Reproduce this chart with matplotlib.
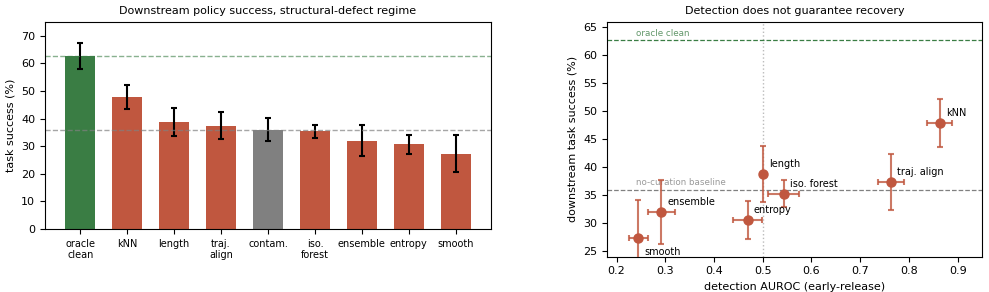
import numpy as np
import matplotlib
matplotlib.use("Agg")
import matplotlib.pyplot as plt

# ---------- data ----------
methods     = ["oracle\nclean", "kNN", "length", "traj.\nalign", "contam.",
               "iso.\nforest", "ensemble", "entropy", "smooth"]
success     = [62.7, 47.9, 38.8, 37.4, 36.0, 35.3, 32.0, 30.6, 27.3]
success_err = [4.7, 4.3, 5.0, 5.0, 4.3, 2.5, 5.7, 3.4, 6.8]

det_names = ["kNN", "length", "traj. align", "iso. forest", "ensemble", "entropy", "smooth"]
auroc     = [0.863, 0.500, 0.763, 0.543, 0.292, 0.469, 0.245]
auroc_err = [0.025, 0.0, 0.026, 0.032, 0.028, 0.030, 0.020]
det_succ  = [47.9, 38.8, 37.4, 35.3, 32.0, 30.6, 27.3]
det_err   = [4.3, 5.0, 5.0, 2.5, 5.7, 3.4, 6.8]

ORACLE, BASELINE = 62.7, 36.0
RED, GREEN, GREY = "#c0573f", "#3a7d44", "#808080"

fig = plt.figure(figsize=(9.89, 2.92), dpi=100)
a1 = fig.add_axes([0.0455, 0.216, 0.451, 0.709])
a2 = fig.add_axes([0.614, 0.121, 0.379, 0.804])

# ---------- left: bars ----------
colors = [GREEN] + [RED] * 3 + [GREY] + [RED] * 4
x = np.arange(len(methods))
a1.bar(x, success, width=0.64, color=colors, yerr=success_err,
       error_kw=dict(ecolor="black", elinewidth=1.5, capsize=2.5, capthick=1.5))
a1.axhline(ORACLE, color=GREEN, ls="--", lw=1, alpha=0.6)
a1.axhline(BASELINE, color=GREY, ls="--", lw=1, alpha=0.7)
a1.set_xticks(x)
a1.set_xticklabels(methods, fontsize=7)
a1.set_ylim(0, 75)
a1.set_xlim(-0.75, 8.75)
a1.set_ylabel("task success (%)", fontsize=8)
a1.set_title("Downstream policy success, structural-defect regime", fontsize=8)
a1.tick_params(axis="y", labelsize=8)

# ---------- right: scatter ----------
a2.axvline(0.5, color="#bbbbbb", ls=":", lw=1)
a2.axhline(ORACLE, color=GREEN, ls="--", lw=0.9)
a2.axhline(BASELINE, color=GREY, ls="--", lw=0.9)
a2.text(0.24, ORACLE + 0.4, "oracle clean", color=GREEN, fontsize=6.3, alpha=0.8, va="bottom")
a2.text(0.24, BASELINE + 0.4, "no-curation baseline", color=GREY, fontsize=6.3, alpha=0.8, va="bottom")
a2.errorbar(auroc, det_succ, xerr=auroc_err, yerr=det_err, fmt="none",
            ecolor=RED, elinewidth=1.5, capsize=2.5, capthick=1.5,
            alpha=0.8, zorder=3)
a2.plot(auroc, det_succ, "o", color=RED, ms=6.5, zorder=4)
for n, ax_, ay in zip(det_names, auroc, det_succ):
    off = (4.5, -10) if n == "smooth" else (4.5, 7)
    a2.annotate(n, (ax_, ay), xytext=off, textcoords="offset points",
                fontsize=7, ha="left", va="center")
a2.set_xlim(0.181, 0.95)
a2.set_ylim(24, 66)
a2.set_xlabel("detection AUROC (early-release)", fontsize=8)
a2.set_ylabel("downstream task success (%)", fontsize=8)
a2.set_title("Detection does not guarantee recovery", fontsize=8)
a2.tick_params(labelsize=8)

plt.savefig("out.png", dpi=100)
